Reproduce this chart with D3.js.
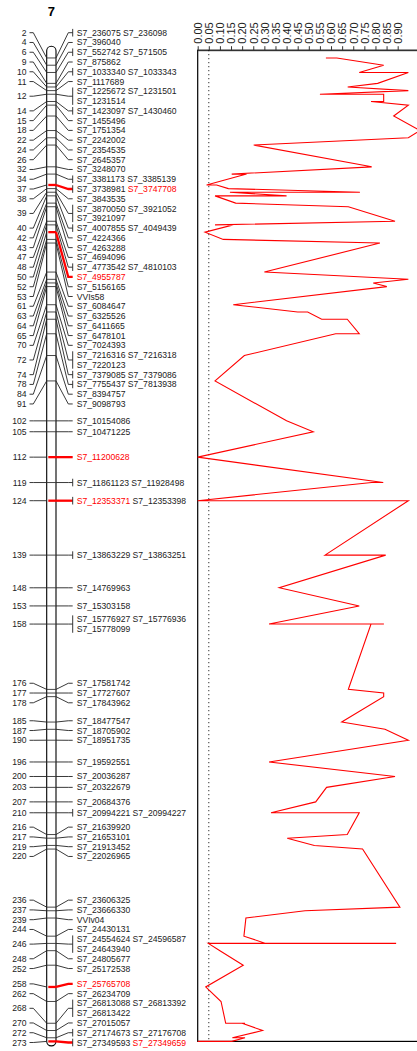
<!DOCTYPE html>
<html>
<head>
<meta charset="utf-8">
<script src="https://cdn.jsdelivr.net/npm/d3@7"></script>
<style>
  body { margin: 0; background: #fff; }
  svg { display: block; font-family: "Liberation Sans", Arial, Helvetica, sans-serif; }
</style>
</head>
<body>
<div id="chart"></div>
<script>
var width = 417,
    height = 1051;

var chromName = "7";

// locus positions (cM) on the linkage group
var lociPos = [2, 4, 6, 9, 10, 11, 12, 14, 15, 18, 22, 24, 26, 32, 34, 37, 38, 39, 40, 42,
  43, 47, 48, 50, 52, 53, 61, 63, 64, 65, 70, 72, 74, 78, 84, 91, 102, 105, 112, 119,
  124, 139, 148, 153, 158, 176, 177, 178, 185, 187, 190, 196, 200, 203, 207, 210, 216, 217, 219, 220,
  236, 237, 239, 244, 246, 248, 252, 258, 262, 268, 270, 272, 273];

// markers at each locus
var lociMarkers = [
  ["S7_236075", "S7_236098"], ["S7_396040"], ["S7_552742", "S7_571505"], ["S7_875862"],
  ["S7_1033340", "S7_1033343"], ["S7_1117689"], ["S7_1225672", "S7_1231501", "S7_1231514"],
  ["S7_1423097", "S7_1430460"], ["S7_1455496"], ["S7_1751354"], ["S7_2242002"], ["S7_2354535"],
  ["S7_2645357"], ["S7_3248070"], ["S7_3381173", "S7_3385139"], ["S7_3738981", "S7_3747708"],
  ["S7_3843535"], ["S7_3870050", "S7_3921052", "S7_3921097"], ["S7_4007855", "S7_4049439"],
  ["S7_4224366"], ["S7_4263288"], ["S7_4694096"], ["S7_4773542", "S7_4810103"], ["S7_4955787"],
  ["S7_5156165"], ["VVIs58"], ["S7_6084647"], ["S7_6325526"], ["S7_6411665"], ["S7_6478101"],
  ["S7_7024393"], ["S7_7216316", "S7_7216318", "S7_7220123"], ["S7_7379085", "S7_7379086"],
  ["S7_7755437", "S7_7813938"], ["S7_8394757"], ["S7_9098793"], ["S7_10154086"], ["S7_10471225"],
  ["S7_11200628"], ["S7_11861123", "S7_11928498"], ["S7_12353371", "S7_12353398"],
  ["S7_13863229", "S7_13863251"], ["S7_14769963"], ["S7_15303158"],
  ["S7_15776927", "S7_15776936", "S7_15778099"], ["S7_17581742"], ["S7_17727607"], ["S7_17843962"],
  ["S7_18477547"], ["S7_18705902"], ["S7_18951735"], ["S7_19592551"], ["S7_20036287"],
  ["S7_20322679"], ["S7_20684376"], ["S7_20994221", "S7_20994227"], ["S7_21639920"],
  ["S7_21653101"], ["S7_21913452"], ["S7_22026965"], ["S7_23606325"], ["S7_23666330"], ["VVIv04"],
  ["S7_24430131"], ["S7_24554624", "S7_24596587", "S7_24643940"], ["S7_24805677"], ["S7_25172538"],
  ["S7_25765708"], ["S7_26234709"], ["S7_26813088", "S7_26813392", "S7_26813422"], ["S7_27015057"],
  ["S7_27174673", "S7_27176708"], ["S7_27349593", "S7_27349659"]
];

// p-value of each marker (same order as lociMarkers)
var markerValues = [
  [0.577, 0.626], [0.837], [0.727, 0.948], [0.810], [0.675, 0.675], [0.948], [0.55, 0.837, 0.837],
  [0.837, 0.780], [0.948], [0.882], [1.0], [0.948], [0.252], [0.783], [0.153, 0.22], [0.04, 0.085],
  [0.138], [0.730, 0.145, 0.145], [0.40, 0.078], [0.171], [0.678], [0.888], [0.078, 0.160], [0.033],
  [0.115], [0.82], [0.30], [0.948], [0.790], [0.851], [0.160], [0.45, 0.495, 0.495], [0.558, 0.673],
  [0.727, 0.621], [0.21], [0.078], [0.40], [0.52], [0.0], [0.835, 0.783], [0.0, 0.948], [0.573, 0.846],
  [0.367], [0.727], [0.321, 0.838, 0.78], [0.678], [0.837], [0.837], [0.648], [0.843], [0.948],
  [0.321], [0.888], [0.58], [0.531], [0.33, 0.727], [0.673], [0.403], [0.525], [0.742], [0.91],
  [0.483], [0.217], [0.208], [0.306, 0.893, 0.048], [0.10], [0.205], [0.036], [0.105],
  [0.126, 0.213, 0.2], [0.292], [0.156, 0.213], [0.153, 0.0]
];

var highlighted = ["S7_3747708", "S7_4955787", "S7_11200628", "S7_12353371", "S7_25765708", "S7_27349659"];

var pTicks = [0.00, 0.05, 0.10, 0.15, 0.20, 0.25, 0.30, 0.35, 0.40, 0.45,
  0.50, 0.55, 0.60, 0.65, 0.70, 0.75, 0.80, 0.85, 0.90];
var threshold = 0.05;

var svg = d3.select("#chart").append("svg")
    .attr("width", width)
    .attr("height", height);

var y = d3.scaleLinear()
    .domain([0, d3.max(lociPos)])
    .range([50.7, 1041.4]);

var x = d3.scaleLinear()
    .domain([0, 1])
    .range([197.7, 419.9]);

var barL = 46.7, barR = 56,
    fontSize = 8.6,
    rowH = 9.77,
    topBound = 32.7, bottomBound = 1042.5;

/* build loci and spread labels */
var loci = lociPos.map(function(p, i){
  var m = lociMarkers[i], rows = [];
  for (var k = 0; k < m.length; k += 2) rows.push(m.slice(k, k + 2));
  return {
    pos: p, markers: m, values: markerValues[i], rows: rows, y: y(p),
    red: m.some(function(d){ return highlighted.indexOf(d) >= 0; })
  };
});

function place(c){
  var sum = 0;
  c.d.forEach(function(d, j){ sum += d - j * rowH; });
  c.p = sum / c.d.length;
  c.p = Math.max(topBound, Math.min(bottomBound - (c.d.length - 1) * rowH, c.p));
}

var clusters = [];
loci.forEach(function(l){
  var n = l.rows.length, d = [];
  for (var j = 0; j < n; j++) d.push(l.y + (j - (n - 1) / 2) * rowH);
  var c = {items: [l], d: d};
  place(c);
  while (clusters.length){
    var prev = clusters[clusters.length - 1];
    if (prev.p + prev.d.length * rowH > c.p + 0.01){
      c = {items: prev.items.concat(c.items), d: prev.d.concat(c.d)};
      place(c);
      clusters.pop();
    } else break;
  }
  clusters.push(c);
});
clusters.forEach(function(c){
  var j = 0;
  c.items.forEach(function(l){
    l.rowY = l.rows.map(function(r, k){ return c.p + (j + k) * rowH; });
    l.labelY = d3.mean(l.rowY);
    j += l.rows.length;
  });
});

/* title */
svg.append("text")
  .attr("x", (barL + barR) / 2)
  .attr("y", 16)
  .attr("text-anchor", "middle")
  .style("font-weight", "bold")
  .style("font-size", "13px")
  .text(chromName);

/* chromosome bar */
svg.append("rect")
  .attr("x", barL)
  .attr("y", y(0) - 4.5)
  .attr("width", barR - barL)
  .attr("height", y(d3.max(lociPos)) - y(0) + 9)
  .attr("rx", 4.6)
  .attr("fill", "#fff")
  .attr("stroke", "#000")
  .attr("stroke-width", 1.1);

var g = svg.append("g");

// marker lines in bar
g.selectAll(".mline")
  .data(loci)
  .enter().append("line")
  .attr("x1", function(d){ return d.red ? barL + 1.6 : barL; })
  .attr("x2", barR)
  .attr("y1", function(d){ return d.y; })
  .attr("y2", function(d){ return d.y; })
  .attr("stroke", function(d){ return d.red ? "red" : "#333"; })
  .attr("stroke-width", function(d){ return d.red ? 2.3 : 0.9; });

// left connectors
g.selectAll(".lconn")
  .data(loci)
  .enter().append("polyline")
  .attr("points", function(d){
    return [[29.5, d.labelY], [33.3, d.labelY], [barL, d.y]].join(" ");
  })
  .attr("fill", "none")
  .attr("stroke", "#222")
  .attr("stroke-width", 0.9);

// right connectors
g.selectAll(".rconn")
  .data(loci)
  .enter().append("polyline")
  .attr("points", function(d){
    return [[barR, d.y], [68.3, d.labelY], [72.7, d.labelY]].join(" ");
  })
  .attr("fill", "none")
  .attr("stroke", function(d){ return d.red ? "red" : "#222"; })
  .attr("stroke-width", function(d){ return d.red ? 2.3 : 0.9; });

// brackets for loci with more than one marker
g.selectAll(".bracket")
  .data(loci.filter(function(d){ return d.markers.length > 1; }))
  .enter().append("line")
  .attr("x1", 72.7).attr("x2", 72.7)
  .attr("y1", function(d){ return d.rowY[0] - 3.8; })
  .attr("y2", function(d){ return d.rowY[d.rowY.length - 1] + 3.8; })
  .attr("stroke", "#222")
  .attr("stroke-width", 0.9);

// position labels
g.selectAll(".poslab")
  .data(loci)
  .enter().append("text")
  .attr("x", 26.5)
  .attr("y", function(d){ return d.labelY; })
  .attr("dy", "0.35em")
  .attr("text-anchor", "end")
  .style("font-size", fontSize + "px")
  .attr("fill", "#222")
  .text(function(d){ return d.pos; });

// marker labels
loci.forEach(function(l){
  l.rows.forEach(function(r, k){
    var t = g.append("text")
      .attr("x", 76.7)
      .attr("y", l.rowY[k])
      .attr("dy", "0.35em")
      .style("font-size", fontSize + "px");
    r.forEach(function(m, i){
      t.append("tspan")
        .attr("fill", highlighted.indexOf(m) >= 0 ? "red" : "#222")
        .text((i > 0 ? " " : "") + m);
    });
  });
});

/* p-value panel */
var panelTop = y(0) - 0.5, panelBottom = y(d3.max(lociPos));

svg.append("rect")
  .attr("x", x(0))
  .attr("y", panelTop)
  .attr("width", x(1) - x(0))
  .attr("height", panelBottom - panelTop)
  .attr("fill", "none")
  .attr("stroke", "#000")
  .attr("stroke-width", 1.2);

var axis = svg.append("g")
  .attr("transform", "translate(0," + panelTop + ")")
  .call(d3.axisTop(x).tickValues(pTicks).tickSize(4).tickSizeOuter(0).tickFormat(d3.format(".2f")));

axis.select(".domain").attr("stroke", "#333");
axis.selectAll(".tick line").attr("stroke", "#333");
axis.selectAll(".tick text")
  .attr("transform", "rotate(-90)")
  .attr("x", 6.5)
  .attr("y", 0)
  .attr("dy", "0.35em")
  .attr("text-anchor", "start")
  .style("font-size", "11px")
  .style("font-family", "'Liberation Sans', Arial, sans-serif")
  .attr("fill", "#222");

svg.append("line")
  .attr("x1", x(threshold)).attr("x2", x(threshold))
  .attr("y1", panelTop).attr("y2", panelBottom)
  .attr("stroke", "#000")
  .attr("stroke-width", 1)
  .attr("stroke-dasharray", "1,3");

var points = [];
loci.forEach(function(l){
  l.values.forEach(function(v){ points.push([x(v), l.y]); });
});

svg.append("path")
  .datum(points)
  .attr("d", d3.line())
  .attr("fill", "none")
  .attr("stroke", "red")
  .attr("stroke-width", 1.1);
</script>
</body>
</html>
